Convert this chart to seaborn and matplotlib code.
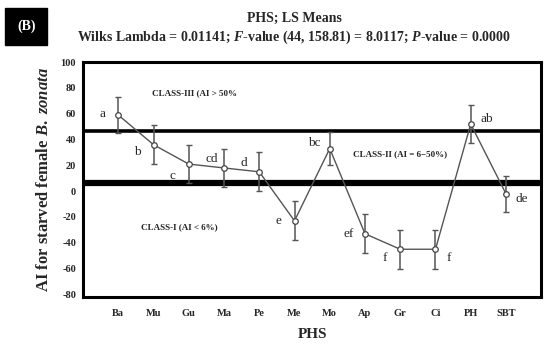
import pandas as pd
import matplotlib.pyplot as plt
import seaborn as sns

# values
hosts = ["Ba", "Mu", "Gu", "Ma", "Pe", "Me", "Mo", "Ap", "Gr", "Ci", "PH", "SBT"]
ai_mean = [59, 36, 21, 18, 15, -23, 33, -33, -45, -45, 52, -2]
ai_err = [14, 15, 15, 15, 15, 15, 13, 15, 15, 15, 15, 14]
groups = ["a", "b", "c", "cd", "d", "e", "bc", "ef", "f", "f", "ab", "de"]
class_bounds = [47, 6]

df = pd.DataFrame({"PHS": hosts, "AI": ai_mean, "err": ai_err, "grp": groups})
df["pos"] = range(len(df))

sns.set_style("white")
plt.rcParams["font.family"] = ["Liberation Serif", "DejaVu Serif"]
plt.rcParams["axes.unicode_minus"] = False
plt.rcParams["mathtext.fontset"] = "custom"
plt.rcParams["mathtext.it"] = "Liberation Serif:bold:italic"
plt.rcParams["mathtext.rm"] = "Liberation Serif:bold"

fig = plt.figure(figsize=(5.5, 3.49), dpi=100)
ax = fig.add_axes([0.151, 0.149, 0.833, 0.673])

ax.axhline(class_bounds[0], color="black", lw=2.6, zorder=1)
ax.axhline(class_bounds[1], color="black", lw=4.5, zorder=1)

ax.errorbar(df["pos"], df["AI"], yerr=df["err"], fmt="none", ecolor="#555555",
            elinewidth=1.1, capsize=2.5, capthick=1, zorder=2)
sns.lineplot(data=df, x="pos", y="AI", ax=ax, color="#555555", lw=1,
             marker="o", markersize=4, markerfacecolor="white",
             markeredgecolor="#444444", markeredgewidth=0.9, zorder=3)

# letters for the mean groups
offsets = [(-0.45, 1), (-0.45, -6), (-0.45, -9), (-0.35, 7), (-0.45, 7), (-0.45, 0),
           (-0.45, 4), (-0.45, 0), (-0.45, -7), (0.38, -7), (0.45, 4), (0.45, -4)]
for (dx, dy), p, v, g in zip(offsets, df["pos"], df["AI"], groups):
    ax.text(p + dx, v + dy, g, ha="center", va="center", fontsize=9.5)

ax.text(0.95, 76, "CLASS-III (AI > 50%", fontsize=6.5, fontweight="bold", va="center")
ax.text(6.65, 29, "CLASS-II (AI = 6\u221250%)", fontsize=6.5, fontweight="bold", va="center")
ax.text(0.65, -28, "CLASS-I (AI < 6%)", fontsize=6.5, fontweight="bold", va="center")

ax.set_xlim(-1, 12)
ax.set_ylim(-82, 100)
ax.set_yticks(range(-80, 101, 20))
ax.set_xticks(df["pos"])
ax.set_xticklabels(hosts)
ax.tick_params(axis="y", length=0, labelsize=7.5, pad=5)
ax.tick_params(axis="x", length=0, labelsize=7.5, pad=9)
for lab in ax.get_xticklabels() + ax.get_yticklabels():
    lab.set_fontweight("bold")
for s in ax.spines.values():
    s.set_linewidth(2.2)
    s.set_color("black")

ax.set_xlabel("PHS", fontsize=11, fontweight="bold", labelpad=7)
ax.set_ylabel("AI for starved female $\\mathit{B.\\ zonata}$", fontsize=12,
              fontweight="bold", labelpad=6)

fig.text(0.535, 0.948, "PHS; LS Means", ha="center", va="center", fontsize=10, fontweight="bold")
fig.text(0.535, 0.892, "Wilks Lambda = 0.01141; $\\mathit{F}$-value (44, 158.81) = 8.0117; "
         "$\\mathit{P}$-value = 0.0000", ha="center", va="center", fontsize=10,
         fontweight="bold")
fig.text(0.048, 0.925, "(B)", ha="center", va="center", fontsize=10, fontweight="bold",
         color="white", bbox=dict(boxstyle="square,pad=0.85", fc="black", ec="black"))

fig.savefig("out.png", dpi=100)
